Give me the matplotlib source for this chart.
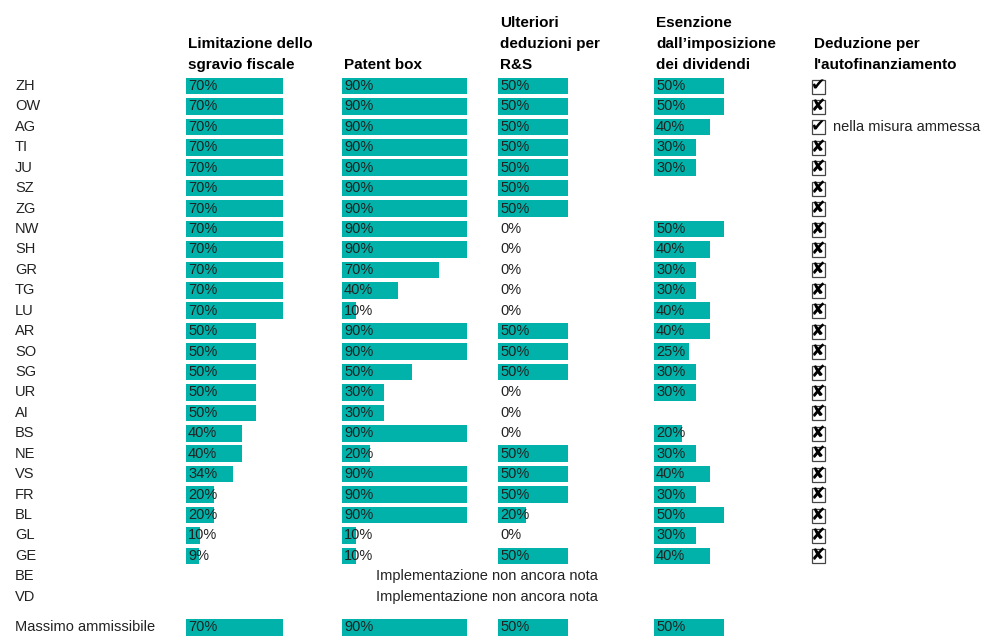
import numpy as np
import matplotlib
matplotlib.use('Agg')
import matplotlib.pyplot as plt
from matplotlib.patches import Rectangle

plt.rcParams['font.family'] = ['Liberation Sans', 'DejaVu Sans']

states = ['ZH', 'OW', 'AG', 'TI', 'JU', 'SZ', 'ZG', 'NW', 'SH', 'GR', 'TG',
          'LU', 'AR', 'SO', 'SG', 'UR', 'AI', 'BS', 'NE', 'VS', 'FR', 'BL',
          'GL', 'GE', 'BE', 'VD']

headers = ['Limitazione dello\nsgravio fiscale', 'Patent box',
           'Ulteriori\ndeduzioni per\nR&S',
           'Esenzione\ndall\u2019imposizione\ndei dividendi',
           'Deduzione per\nl\'autofinanziamento']

# None = no value shown
relief_limit = [70, 70, 70, 70, 70, 70, 70, 70, 70, 70, 70, 70, 50, 50, 50,
                50, 50, 40, 40, 34, 20, 20, 10, 9, None, None]
patent_box = [90, 90, 90, 90, 90, 90, 90, 90, 90, 70, 40, 10, 90, 90, 50,
              30, 30, 90, 20, 90, 90, 90, 10, 10, None, None]
rd_deduction = [50, 50, 50, 50, 50, 50, 50, 0, 0, 0, 0, 0, 50, 50, 50,
                0, 0, 0, 50, 50, 50, 20, 0, 50, None, None]
dividend_exempt = [50, 50, 40, 30, 30, None, None, 50, 40, 30, 30, 40, 40,
                   25, 30, 30, None, 20, 30, 40, 30, 50, 30, 40, None, None]
self_financing = [True, False, True] + [False] * 21 + [None, None]
self_financing_note = {'AG': 'nella misura ammessa'}
not_known = {'BE': 'Implementazione non ancora nota',
             'VD': 'Implementazione non ancora nota'}

max_label = 'Massimo ammissibile'
max_values = [70, 90, 50, 50]

teal = '#00b2a9'
txt = '#222222'

fig = plt.figure(figsize=(9.81, 6.37), dpi=100)
ax = fig.add_axes([0, 0, 1, 1])
ax.set_xlim(0, 981)
ax.set_ylim(637, 0)
ax.axis('off')

px_per_pct = 1.39
col_left = [186, 342, 498, 654]
check_x = 812
row0, row_step = 86, 20.43
bar_h = 16.5
fs = 10.5

rows = row0 + np.arange(len(states)) * row_step
max_row = rows[-1] + 1.5 * row_step

for y, s in zip(rows, states):
    ax.text(15, y, s, fontsize=fs, color=txt, va='center', ha='left')
ax.text(15, max_row, max_label, fontsize=fs, color=txt, va='center')

for x, h in zip(col_left + [check_x], headers):
    ax.text(x + 2, 72, h, fontsize=11, fontweight='bold', color='black',
            va='bottom', ha='left', linespacing=1.65)

columns = [relief_limit, patent_box, rd_deduction, dividend_exempt]
for left, vals, mx in zip(col_left, columns, max_values):
    for y, v in zip(rows, vals):
        if v is None:
            continue
        if v > 0:
            ax.barh(y, v * px_per_pct, left=left, height=bar_h, color=teal,
                    linewidth=0)
        ax.text(left + 2, y, '%d%%' % v, fontsize=fs, color=txt,
                va='center', ha='left')
    ax.barh(max_row, mx * px_per_pct, left=left, height=bar_h, color=teal,
            linewidth=0)
    ax.text(left + 2, max_row, '%d%%' % mx, fontsize=fs, color=txt,
            va='center', ha='left')

# ballot boxes: thin box + heavy check / cross
for y, s, ok in zip(rows, states, self_financing):
    if ok is None:
        continue
    ax.add_patch(Rectangle((check_x, y - 6.5), 13, 14, fill=False,
                           edgecolor='#444444', linewidth=0.9))
    mark = '\u2714' if ok else '\u2718'
    ax.text(check_x + 6.5, y - 0.5, mark, fontsize=12.5, color='black',
            va='center', ha='center', family='DejaVu Sans')
    if s in self_financing_note:
        ax.text(check_x + 21, y, self_financing_note[s], fontsize=fs,
                color=txt, va='center', ha='left')

for y, s in zip(rows, states):
    if s in not_known:
        ax.text(376, y, not_known[s], fontsize=fs, color=txt, va='center',
                ha='left')

fig.savefig('out.png', dpi=100)
